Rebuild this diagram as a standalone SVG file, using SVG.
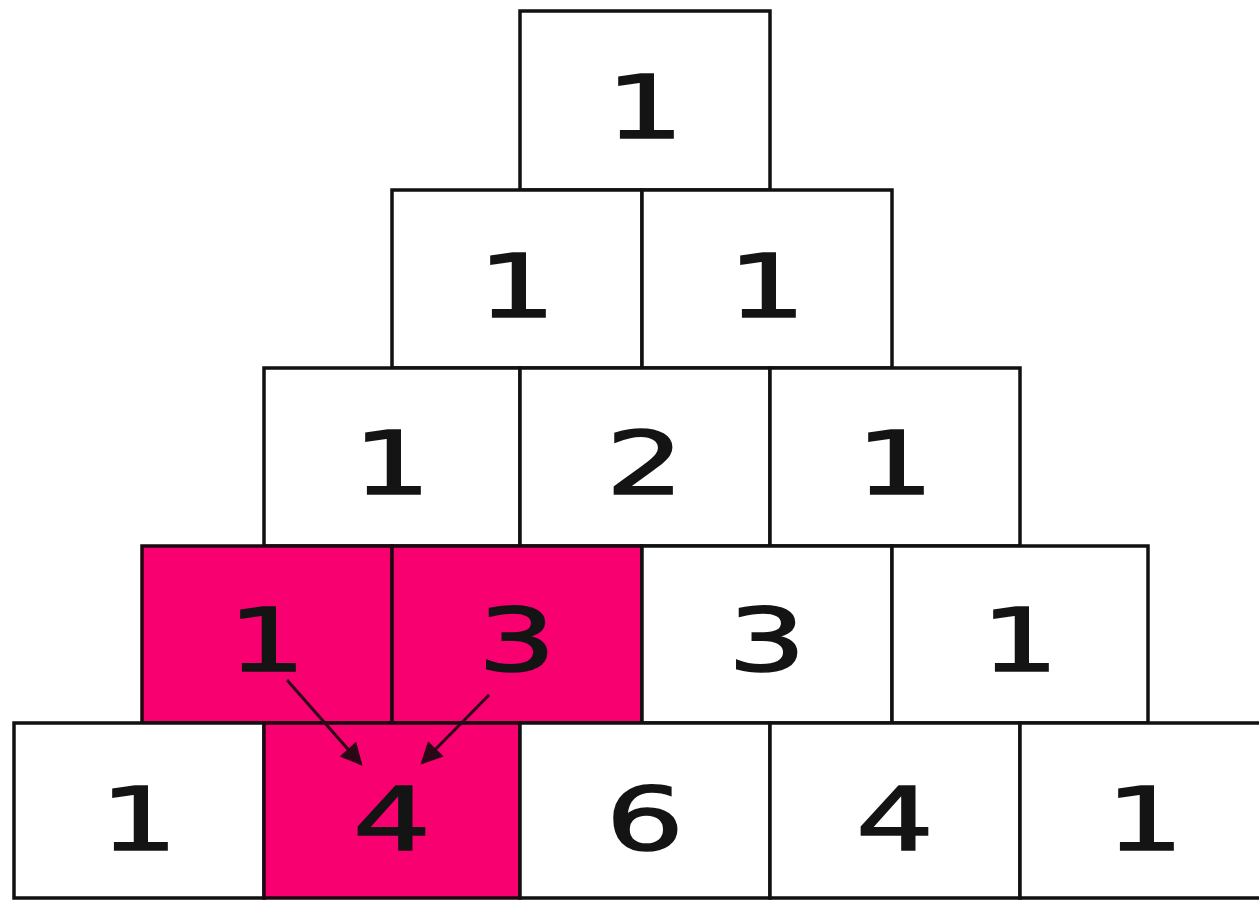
<svg xmlns="http://www.w3.org/2000/svg" width="1259" height="900" viewBox="0 0 1259 900">
<style>
.box{fill:#ffffff;stroke:#111111;stroke-width:3.5}
.hot{fill:#F8006F;stroke:#1a0a10;stroke-width:3.5}
.num{font-family:"DejaVu Sans","Liberation Sans",sans-serif;font-size:88px;text-anchor:middle;fill:#141414;stroke:#141414;stroke-width:1.6}
.arr{stroke:#2a0818;stroke-width:3;fill:none}
</style>
<defs>
<marker id="ahb" viewBox="0 0 10 10" refX="9" refY="5" markerWidth="24" markerHeight="22" markerUnits="userSpaceOnUse" orient="auto">
<path d="M0,0 L10,5 L0,10 z" fill="#2a0818"/>
</marker>
</defs>
<rect width="1259" height="900" fill="#ffffff"/>
<g id="r0c0"><rect class="box" x="520" y="11" width="250" height="179"/><text class="num" transform="translate(645,138) scale(1.4,1)">1</text></g>
<g id="r1c0"><rect class="box" x="392" y="190" width="250" height="178"/><text class="num" transform="translate(517,317) scale(1.4,1)">1</text></g>
<g id="r1c1"><rect class="box" x="642" y="190" width="250" height="178"/><text class="num" transform="translate(767,317) scale(1.4,1)">1</text></g>
<g id="r2c0"><rect class="box" x="264" y="368" width="256" height="178"/><text class="num" transform="translate(392,494) scale(1.4,1)">1</text></g>
<g id="r2c1"><rect class="box" x="520" y="368" width="250" height="178"/><text class="num" transform="translate(645,494) scale(1.4,1)">2</text></g>
<g id="r2c2"><rect class="box" x="770" y="368" width="250" height="178"/><text class="num" transform="translate(895,494) scale(1.4,1)">1</text></g>
<g id="r3c0"><rect class="hot" x="142" y="546" width="250" height="177"/><text class="num" transform="translate(267,671) scale(1.4,1)">1</text></g>
<g id="r3c1"><rect class="hot" x="392" y="546" width="250" height="177"/><text class="num" transform="translate(517,671) scale(1.4,1)">3</text></g>
<g id="r3c2"><rect class="box" x="642" y="546" width="250" height="177"/><text class="num" transform="translate(767,671) scale(1.4,1)">3</text></g>
<g id="r3c3"><rect class="box" x="892" y="546" width="256" height="177"/><text class="num" transform="translate(1020,671) scale(1.4,1)">1</text></g>
<g id="r4c0"><rect class="box" x="14" y="723" width="250" height="175"/><text class="num" transform="translate(139,850) scale(1.4,1)">1</text></g>
<g id="r4c1"><rect class="hot" x="264" y="723" width="256" height="175"/><text class="num" transform="translate(392,850) scale(1.4,1)">4</text></g>
<g id="r4c2"><rect class="box" x="520" y="723" width="250" height="175"/><text class="num" transform="translate(645,850) scale(1.4,1)">6</text></g>
<g id="r4c3"><rect class="box" x="770" y="723" width="250" height="175"/><text class="num" transform="translate(895,850) scale(1.4,1)">4</text></g>
<g id="r4c4"><rect class="box" x="1020" y="723" width="250" height="175"/><text class="num" transform="translate(1145,850) scale(1.4,1)">1</text></g>
<g id="connectors">
<line class="arr" x1="287" y1="680" x2="361" y2="764" marker-end="url(#ahb)"/>
<line class="arr" x1="489" y1="695" x2="422" y2="763" marker-end="url(#ahb)"/>
</g>
</svg>
